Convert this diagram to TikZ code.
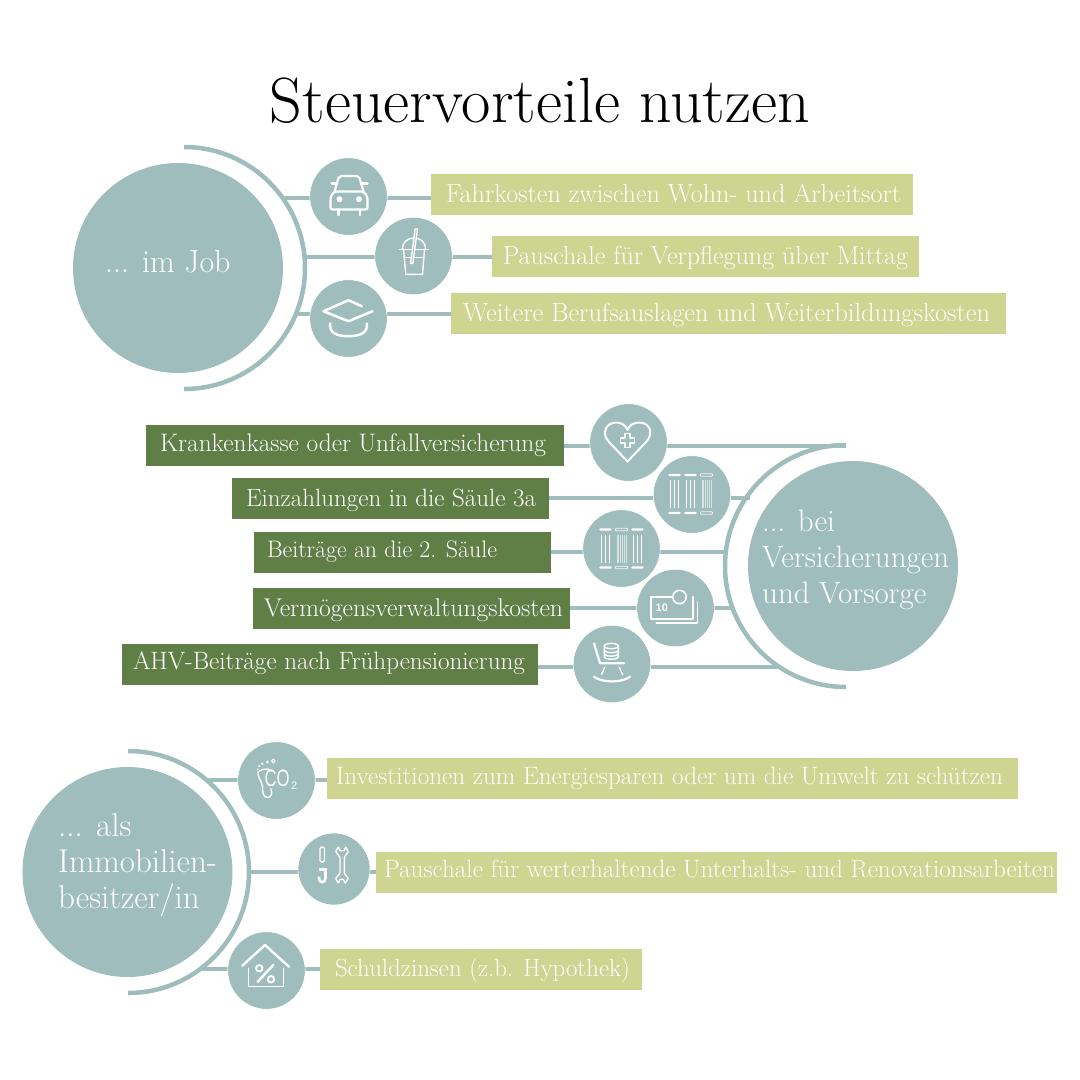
\documentclass[tikz,border=0pt]{standalone}
\usepackage{fontspec}
\usepackage{graphicx}
\definecolor{teal1}{HTML}{9EBDBC}
\definecolor{lgreen}{HTML}{CDD591}
\definecolor{dgreen}{HTML}{607F47}
\newfontfamily\iconsans{Liberation Sans}
\newcommand{\boxfont}{\fontsize{24}{28}\selectfont\addfontfeatures{LetterSpace=2,FakeBold=0.25}}
\newcommand{\mainfontx}[1]{\fontsize{#1}{36}\selectfont\addfontfeatures{LetterSpace=1.5,FakeBold=0.25}}
\tikzset{
  bigc/.style={circle,fill=teal1,minimum size=210pt,inner sep=0pt},
  iconc/.style={circle,fill=teal1,draw=white,line width=.6pt,minimum size=77.5pt,inner sep=0pt},
  conn/.style={draw=teal1,line width=4.3pt},
  arcl/.style={draw=teal1,line width=4.5pt},
  lbox/.style={fill=lgreen,text=white,inner sep=0pt,text height=28pt,text depth=13pt,font=\boxfont},
  dbox/.style={fill=dgreen,text=white,inner sep=0pt,text height=28pt,text depth=13pt,font=\boxfont},
  up/.style={text height={28pt-#1},text depth={13pt+#1}},
  biglab/.style={text=white,inner sep=0pt,anchor=west,align=left},
  ico/.style={draw=white,line width=2.2pt,line cap=round,line join=round},
  icothin/.style={draw=white,line width=1.4pt,line cap=round,line join=round},
}
% name, style, x1,y1,x2,y2, text x1, text x2, text
\newcommand{\txtbox}[9]{%
  \node[#2,minimum width={#5-#3},anchor=center] (#1) at ({(#3+#5)/2},{(#4+#6)/2})
  {\makebox[\dimexpr #5pt-#3pt\relax][l]{\hspace*{\dimexpr #7pt-#3pt\relax}\resizebox{\dimexpr #8pt-#7pt\relax}{!}{#9}}};}
\newcommand{\barcol}[2]{% x, ybase: solid column
  \fill[white,rounded corners=1pt] ({#1-6.2},{#2-20.2}) rectangle ({#1+6.2},{#2-17.8});
  \fill[white,rounded corners=1pt] ({#1-6.2},{#2+17.8}) rectangle ({#1+6.2},{#2+20.2});
  \foreach \q in {-3.7,0,3.7} {\draw[white,line width=1.3pt] ({#1+\q},{#2-14}) -- ({#1+\q},{#2+14});}}
\newcommand{\barhol}[2]{% hollow column
  \draw[white,opacity=.85,line width=.8pt,rounded corners=1pt] ({#1-6.2},{#2-20.3}) rectangle ({#1+6.2},{#2-17.7});
  \draw[white,opacity=.85,line width=.8pt,rounded corners=1pt] ({#1-6.2},{#2+17.7}) rectangle ({#1+6.2},{#2+20.3});
  \foreach \q in {-4.4,-3,-.7,.7,3,4.4} {\draw[white,opacity=.6,line width=.7pt] ({#1+\q},{#2-14}) -- ({#1+\q},{#2+14});}}
\begin{document}
\begin{tikzpicture}[x=1pt,y=-1pt]
\useasboundingbox (0,0) rectangle (1080,1080);
\node[anchor=base,inner sep=0pt] (title) at (540,122)
  {\resizebox{540pt}{!}{\fontsize{60}{70}\selectfont\addfontfeatures{LetterSpace=1.5}Steuervorteile nutzen}};

% ---- section 1
\coordinate (a1) at (283,198);
\coordinate (a2) at (305,257);
\coordinate (a3) at (296,314);
\txtbox{b1}{lbox}{431}{174}{913}{215}{446}{901}{Fahrkosten zwischen Wohn- und Arbeitsort}
\txtbox{b2}{lbox}{492}{236}{919}{277}{503}{908}{Pauschale für Verpflegung über Mittag}
\txtbox{b3}{lbox}{451}{293}{1006}{334}{463}{990}{Weitere Berufsauslagen und Weiterbildungskosten}
\draw[conn] (a1) -- (a1 -| b1.west);
\draw[conn] (a2) -- (a2 -| b2.west);
\draw[conn] (a3) -- (a3 -| b3.west);
\draw[arcl] (184,147) arc[start angle=-90,end angle=90,radius=121];
\node[bigc] (job) at (178,268) {};
\node[biglab,font=\mainfontx{32}] (jobl) at (105,262) {... im Job};
\node[iconc] (car) at (348.5,196.5) {};
\node[iconc] (cup) at (413.5,256) {};
\node[iconc] (grad) at (348.5,318.5) {};

\begin{scope}[shift={(car)}]
 \draw[ico,rounded corners=2pt] (-18,13) -- (-18,0) -- (-14,-5) -- (15,-5) -- (19,0) -- (19,13) -- cycle;
 \draw[ico,rounded corners=2pt] (-14,-5) -- (-9.5,-20.5) -- (10.5,-20.5) -- (15,-5);
 \draw[ico] (-17,-13) -- (-11.5,-13) (12.5,-13) -- (19,-13);
 \fill[white] (-9,2.7) circle (3) (10.5,2.7) circle (3);
 \draw[ico] (-10,13) -- (-10,18.5) (11.5,13) -- (11.5,18.5);
\end{scope}
\begin{scope}[shift={(cup)}]
 \draw[icothin] (-11,-6.7) .. controls (-11,-14) and (-6,-18) .. (.5,-18) .. controls (7,-18) and (12,-14) .. (12,-6.7);
 \draw[icothin] (-14,-6.7) -- (15,-6.7);
 \draw[icothin] (-10,-6.7) -- (-7.7,18.3) -- (9,18.3) -- (11,-6.7);
 \draw[icothin] (-9.5,1.3) -- (10.5,1.3);
 \draw[icothin,fill=teal1] (1.7,-27) -- (4,-27) -- (-.7,7.3) -- (-3,7.3) -- cycle;
\end{scope}
\begin{scope}[shift={(grad)}]
 \draw[ico,line width=2.5pt] (13.3,-12.3) -- (0,-18.3) -- (-25,-7.3) -- (0,2.7) -- (24,-7.3);
 \draw[ico,line width=2.5pt] (-18.3,5) -- (-18.3,8) .. controls (-18,15) and (-10,17.7) .. (0,17.7) .. controls (10,17.7) and (18,15) .. (18.3,8) -- (18.3,5);
\end{scope}

% ---- section 2
\coordinate (c1) at (846,446);
\coordinate (c2) at (750,498);
\coordinate (c3) at (726,552);
\coordinate (c4) at (732,608);
\coordinate (c5) at (780,667);
\txtbox{d1}{dbox,up=2pt}{146}{425}{564}{466}{160}{546}{Krankenkasse oder Unfallversicherung}
\txtbox{d2}{dbox}{232}{478}{549}{519}{246}{536}{Einzahlungen in die Säule 3a}
\txtbox{d3}{dbox,up=3pt}{254}{532}{551}{573}{267}{497}{Beiträge an die 2. Säule}
\txtbox{d4}{dbox}{253}{588}{570}{629}{264}{563}{Vermögensverwaltungskosten}
\txtbox{d5}{dbox,up=2.5pt}{122}{644}{538}{685}{133}{525}{AHV-Beiträge nach Frühpensionierung}
\draw[conn] (c1) -- (c1 -| d1.east);
\draw[conn] (c2) -- (c2 -| d2.east);
\draw[conn] (c3) -- (c3 -| d3.east);
\draw[conn] (c4) -- (c4 -| d4.east);
\draw[conn] (c5) -- (c5 -| d5.east);
\draw[arcl] (846,445) arc[start angle=-90,end angle=-270,radius=121];
\node[bigc] (vers) at (853,566) {};
\node[biglab,font=\mainfontx{31}] (versl) at (762,559.5) {... bei\\Versicherungen\\und Vorsorge};
\node[iconc] (heart) at (628.5,442.5) {};
\node[iconc] (bars1) at (692,494.5) {};
\node[iconc] (bars2) at (621.5,548.5) {};
\node[iconc] (money) at (675.5,608) {};
\node[iconc] (rock) at (612,664) {};

\begin{scope}[shift={(heart)}]
 \draw[ico,line width=2pt] (-1,19) -- (-20,-1) .. controls (-27,-9) and (-23,-20) .. (-12,-20) .. controls (-7,-20) and (-3,-17) .. (-1,-12.7) .. controls (1,-17) and (5,-20) .. (10.5,-20) .. controls (22,-20) and (25,-9) .. (18,-1) -- cycle;
 \draw[icothin] (-3.5,-9) -- (1.5,-9) -- (1.5,-4.5) -- (6,-4.5) -- (6,.5) -- (1.5,.5) -- (1.5,5) -- (-3.5,5) -- (-3.5,.5) -- (-8,.5) -- (-8,-4.5) -- (-3.5,-4.5) -- cycle;
\end{scope}
\begin{scope}[shift={(bars1)}]
 \barcol{-17.5}{-.5}
 \barcol{-1.5}{-.5}
 \barhol{14.5}{-.5}
\end{scope}
\begin{scope}[shift={(bars2)}]
 \barcol{-16}{0}
 \barhol{0}{0}
 \barcol{16}{0}
\end{scope}
\begin{scope}[shift={(money)}]
 \draw[ico] (-2.7,-11) -- (-24.7,-11) -- (-24.7,10.7) -- (17.3,10.7) -- (17.3,-11);
 \draw[icothin] (-19.3,15) -- (22,15) -- (22,-6);
 \draw[ico,line width=1.6pt] (4,-11) circle (6.7);
 \node[text=white,inner sep=0pt,font=\iconsans\bfseries\fontsize{11}{11}\selectfont] (ten) at (-13.7,-.3) {10};
\end{scope}
\begin{scope}[shift={(rock)}]
 \draw[ico] (-18,-20.7) -- (-12,-.7) -- (12.3,-.7);
 \draw[icothin] (-7.3,3.3) -- (-10.3,10.3) (7.3,3.3) -- (10.7,11);
 \draw[ico] (-18,12.7) .. controls (-10,19) and (10,19) .. (18,12.7);
 \draw[icothin] (-7.7,-18) .. controls (-7.7,-21.5) and (6.3,-21.5) .. (6.3,-18) .. controls (6.3,-14.5) and (-7.7,-14.5) .. (-7.7,-18);
 \draw[icothin] (-7.7,-18) -- (-7.7,-7.3) .. controls (-7.7,-4) and (6.3,-4) .. (6.3,-7.3) -- (6.3,-18);
 \draw[icothin] (-7.7,-14) .. controls (-7.7,-10.5) and (6.3,-10.5) .. (6.3,-14);
 \draw[icothin] (-7.7,-10.5) .. controls (-7.7,-7) and (6.3,-7) .. (6.3,-10.5);
\end{scope}

% ---- section 3
\coordinate (e1) at (206,780);
\coordinate (e2) at (249,872);
\coordinate (e3) at (200,969);
\txtbox{f1}{lbox,up=2pt}{327}{758}{1018}{799}{336}{1003}{Investitionen zum Energiesparen oder um die Umwelt zu schützen}
\txtbox{f2}{lbox,up=3pt}{376}{852}{1057}{893}{384}{1055}{Pauschale für werterhaltende Unterhalts- und Renovationsarbeiten}
\txtbox{f3}{lbox,up=1pt}{320}{949}{642}{990}{335}{630}{Schuldzinsen (z.b. Hypothek)}
\draw[conn] (e1) -- (e1 -| f1.west);
\draw[conn] (e2) -- (e2 -| f2.west);
\draw[conn] (e3) -- (e3 -| f3.west);
\draw[arcl] (128,751) arc[start angle=-90,end angle=90,radius=121];
\node[bigc] (immo) at (127.5,872) {};
\node[biglab,font=\mainfontx{33}] (immol) at (58,865.5) {... als\\Immobilien-\\besitzer/in};
\node[iconc] (co) at (276.5,780.5) {};
\node[iconc,minimum size=72pt] (tools) at (334,869) {};
\node[iconc] (house) at (266.5,970.5) {};

\begin{scope}[shift={(co)}]
 \node[anchor=base west,text=white,inner sep=0pt,font=\iconsans] (cot) at (-12,6) {\resizebox{25pt}{16.5pt}{CO}};
 \node[anchor=base west,text=white,inner sep=0pt,font=\iconsans\fontsize{11}{11}\selectfont] (cos) at (14.5,8.5) {2};
 \draw[icothin] (-18.5,-9) .. controls (-19,-3) and (-14.5,1) .. (-14,6) .. controls (-14,10) and (-14,17) .. (-9,17) .. controls (-5,17) and (-4,13) .. (-5.5,8.5);
 \draw[icothin] (-17,-9.5) .. controls (-13,-12) and (-9,-12) .. (-5,-10);
 \fill[white] (-18.8,-11.2) circle (1) (-17.2,-14.5) circle (1.2) (-14.2,-16.8) circle (1.3) (-9.2,-18.5) circle (1.5);
 \draw[white,line width=1pt] (-3.2,-19.5) circle (1.8);
\end{scope}
\begin{scope}[shift={(tools)}]
 \draw[icothin,rounded corners=1.5pt] (-14,-7) -- (-14,-22) -- (-9.5,-22) -- (-9.5,-7) -- cycle;
 \draw[ico,line width=2.6pt,line cap=butt] (-15,.3) -- (-7.3,.3);
 \draw[ico,line width=2.6pt,line cap=butt] (-8.5,.3) -- (-8.5,9) .. controls (-8.5,14.5) and (-15,14.5) .. (-15,9.5) -- (-15,7.5);
 \draw[icothin,rounded corners=.6pt] (4.3,-22.3) -- (1.7,-17.3) -- (6,-11.7) -- (6,4.3) -- (1.7,9.3) -- (4.3,14.3) -- (6,10.3) -- (9.3,10.3) -- (11,14.3) -- (14.3,9.3) -- (10.3,4.3) -- (10.3,-11.7) -- (14.3,-17.3) -- (11.7,-22.3) -- (10.3,-18.3) -- (6,-18.3) -- cycle;
\end{scope}
\begin{scope}[shift={(house)}]
 \draw[ico,line width=2.4pt] (-24.2,-4.8) -- (-1.5,-25.5) -- (22.5,-3.8);
 \draw[icothin] (-18.2,-2.2) -- (-18.2,16.2) -- (16.8,16.2) -- (16.8,-2.2);
 \draw[ico,line width=2.4pt] (-8.8,11.2) -- (6.8,-5.5);
 \draw[ico,line width=2pt] (-7.2,-2.2) circle (3.2) (4.5,8.8) circle (3.2);
\end{scope}
\end{tikzpicture}
\end{document}
